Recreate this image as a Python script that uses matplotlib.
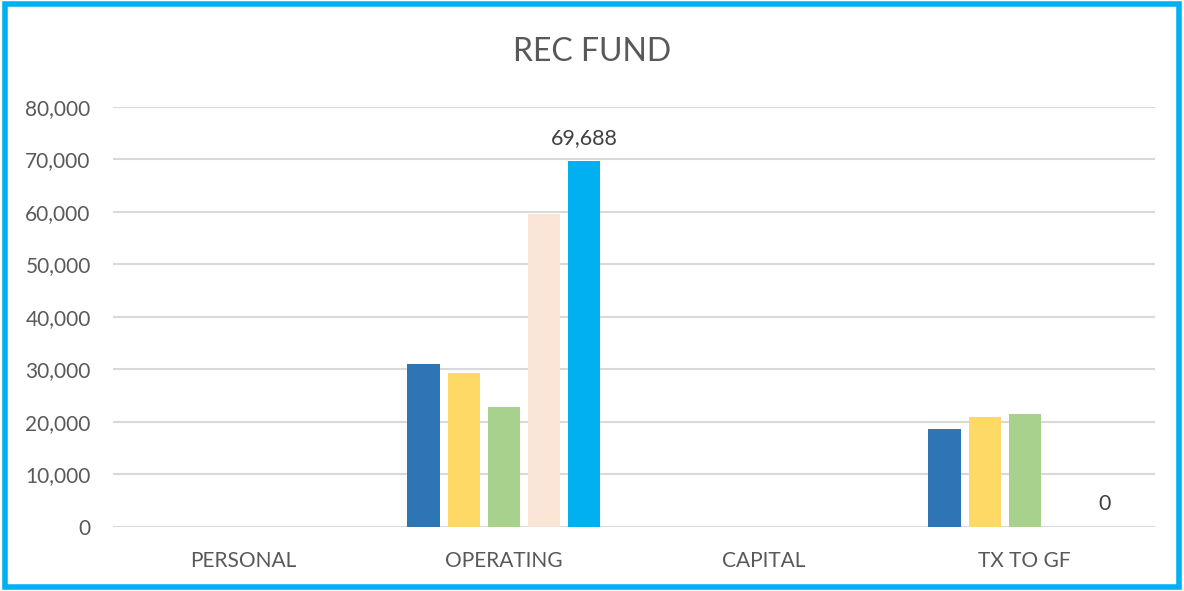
import matplotlib.pyplot as plt
import numpy as np
from matplotlib.patches import Rectangle

categories = ['PERSONAL', 'OPERATING', 'CAPITAL', 'TX TO GF']
series1 = [np.nan, 31000, np.nan, 18700]
series2 = [np.nan, 29300, np.nan, 20950]
series3 = [np.nan, 22900, np.nan, 21500]
series4 = [np.nan, 59700, np.nan, np.nan]
series5 = [np.nan, 69688, np.nan, 0]

colors = ['#2E75B6', '#FFD966', '#A9D18E', '#FBE5D6', '#00B0F0']
all_series = [series1, series2, series3, series4, series5]

plt.rcParams['font.family'] = ['Lato', 'DejaVu Sans']

fig = plt.figure(figsize=(11.84, 5.91), dpi=100)
ax = fig.add_axes([0.0954, 0.1083, 0.88, 0.7107])

x = np.arange(len(categories))
width = 32 / 260
step = 40 / 260
for i, (vals, c) in enumerate(zip(all_series, colors)):
    offs = (i - 2) * step
    ax.bar(x + offs, vals, width, color=c, zorder=3)

# data labels for the last series
for xi, v in zip(x, series5):
    if not np.isnan(v):
        ax.text(xi + 2 * step, v + 2500, f'{v:,.0f}', ha='center', va='bottom',
                fontsize=15.5, color='#404040')

ax.set_xlim(-0.5, 3.5)
ax.set_ylim(0, 80000)
ax.set_yticks(np.arange(0, 80001, 10000))
ax.set_yticklabels([f'{v:,}' for v in range(0, 80001, 10000)])
ax.set_xticks(x)
ax.set_xticklabels(categories)
ax.tick_params(axis='both', length=0, labelsize=15, labelcolor='#595959')
ax.tick_params(axis='y', pad=16)
ax.tick_params(axis='x', pad=17)
ax.grid(axis='y', color='#D9D9D9', linewidth=1.5, zorder=0)
for s in ax.spines.values():
    s.set_visible(False)

fig.text(0.5, 0.912, 'REC FUND', ha='center', va='center', fontsize=23, color='#595959')

fig.patches.append(Rectangle((0.004, 0.006), 0.992, 0.988, transform=fig.transFigure,
                             fill=False, edgecolor='#00B0F0', linewidth=4))

fig.savefig('out.png', dpi=100)
